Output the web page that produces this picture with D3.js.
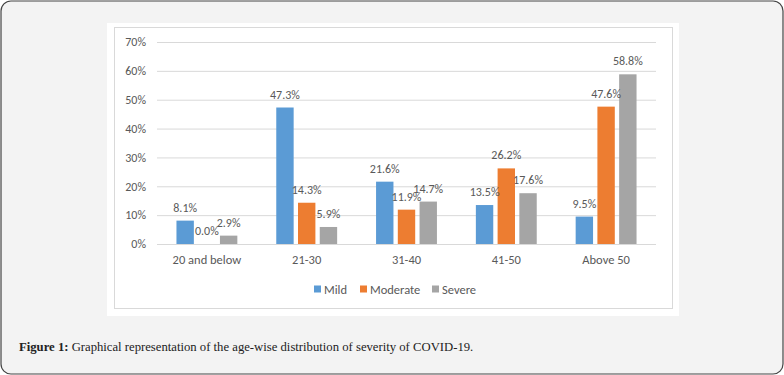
<!DOCTYPE html>
<html>
<head>
<meta charset="utf-8">
<script src="https://cdn.jsdelivr.net/npm/d3@7"></script>
<style>
  body { margin: 0; background: #fff; }
  svg { display: block; }
</style>
</head>
<body>
<div id="chart"></div>
<script>
// age groups and severity shares (%)
const categories = ["20 and below", "21-30", "31-40", "41-50", "Above 50"];
const series = ["Mild", "Moderate", "Severe"];
const mild = [8.1, 47.3, 21.6, 13.5, 9.5];
const moderate = [0.0, 14.3, 11.9, 26.2, 47.6];
const severe = [2.9, 5.9, 14.7, 17.6, 58.8];
const yTicks = [0, 10, 20, 30, 40, 50, 60, 70];
const colors = ["#5B9BD5", "#ED7D31", "#A5A5A5"];

const values = [mild, moderate, severe];
const rows = categories.map((c, i) => ({
    cat: c,
    vals: series.map((s, j) => ({ key: s, v: values[j][i] }))
}));

const w = 784, h = 375;
const plot = { left: 157, right: 656, top: 42, bottom: 244 };
const font = "Carlito, Calibri, 'Liberation Sans', sans-serif";
const fs = "12.5px";

const svg = d3.select("#chart").append("svg")
    .attr("width", w)
    .attr("height", h);

// outer frame
svg.append("rect")
    .attr("x", 1).attr("y", 1)
    .attr("width", w - 2).attr("height", h - 2)
    .attr("rx", 10)
    .attr("fill", "#f3f3f3")
    .attr("stroke", "#444")
    .attr("stroke-width", 1.2);

// white chart area + light inner border
svg.append("rect")
    .attr("x", 107).attr("y", 23)
    .attr("width", 572).attr("height", 293)
    .attr("fill", "#fff");
svg.append("rect")
    .attr("x", 114.5).attr("y", 27.5)
    .attr("width", 558).attr("height", 281)
    .attr("fill", "none")
    .attr("stroke", "#d9d9d9");

const x0 = d3.scaleBand()
    .domain(categories)
    .range([plot.left, plot.right])
    .paddingInner(0.39)
    .paddingOuter(0.195);

const x1 = d3.scaleBand()
    .domain(series)
    .range([0, x0.bandwidth()])
    .paddingInner(0.2);

const y = d3.scaleLinear()
    .domain([0, 70])
    .range([plot.bottom, plot.top]);

const color = d3.scaleOrdinal().domain(series).range(colors);

// gridlines + y labels
const yAxis = svg.append("g")
    .attr("transform", `translate(${plot.left},0)`)
    .call(d3.axisLeft(y).tickValues(yTicks).tickFormat(d => d + "%")
        .tickSize(-(plot.right - plot.left)).tickPadding(11));
yAxis.select(".domain").remove();
yAxis.selectAll("line").attr("stroke", "#d9d9d9");
yAxis.selectAll("text")
    .attr("fill", "#595959")
    .style("font-family", font)
    .style("font-size", "12px");

// x labels
const xAxis = svg.append("g")
    .attr("transform", `translate(0,${plot.bottom})`)
    .call(d3.axisBottom(x0).tickSize(0).tickPadding(11));
xAxis.select(".domain").remove();
xAxis.selectAll("text")
    .attr("fill", "#595959")
    .style("font-family", font)
    .style("font-size", fs);

const groups = svg.append("g").selectAll("g")
    .data(rows)
    .join("g")
    .attr("transform", d => `translate(${x0(d.cat)},0)`);

groups.selectAll("rect")
    .data(d => d.vals)
    .join("rect")
    .attr("x", d => x1(d.key))
    .attr("y", d => y(d.v))
    .attr("width", x1.bandwidth())
    .attr("height", d => y(0) - y(d.v))
    .attr("fill", d => color(d.key));

groups.selectAll("text")
    .data(d => d.vals)
    .join("text")
    .attr("x", d => x1(d.key) + x1.bandwidth() / 2)
    .attr("y", d => y(d.v) - 9)
    .attr("text-anchor", "middle")
    .attr("fill", "#595959")
    .style("font-family", font)
    .style("font-size", "12px")
    .text(d => d.v.toFixed(1) + "%");

// legend
const legendX = [314, 360, 432];
const legend = svg.append("g").selectAll("g")
    .data(series)
    .join("g")
    .attr("transform", (d, i) => `translate(${legendX[i]},289)`);
legend.append("rect")
    .attr("x", 0).attr("y", -3.5)
    .attr("width", 7).attr("height", 7)
    .attr("fill", d => color(d));
legend.append("text")
    .attr("x", 10).attr("y", 4.5)
    .attr("fill", "#595959")
    .style("font-family", font)
    .style("font-size", fs)
    .text(d => d);

// caption
const cap = svg.append("text")
    .attr("x", 19).attr("y", 351)
    .attr("fill", "#222")
    .style("font-family", "'Liberation Serif', serif")
    .style("font-size", "12.7px");
cap.append("tspan").attr("font-weight", "bold").text("Figure 1:");
cap.append("tspan").text(" Graphical representation of the age-wise distribution of severity of COVID-19.");
</script>
</body>
</html>
